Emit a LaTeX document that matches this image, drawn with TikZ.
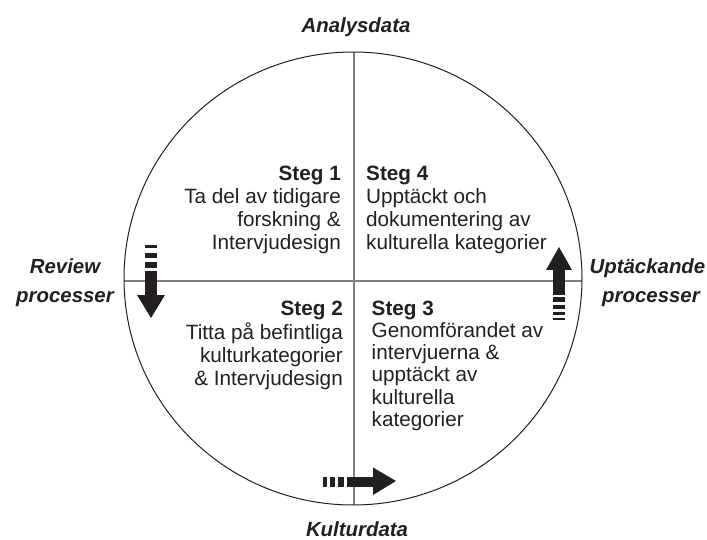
\documentclass[tikz,border=0pt]{standalone}
\usepackage{fontspec}
\setmainfont{Liberation Sans}
\definecolor{ink}{HTML}{231F20}
\definecolor{axis}{HTML}{7F7F7F}
\begin{document}
\begin{tikzpicture}[x=1pt,y=-1pt,
  txt/.style={inner sep=0pt, font=\fontsize{20.7}{22}\selectfont, text=ink},
  hd/.style={txt, font=\fontsize{20.7}{22}\selectfont\bfseries},
  lab/.style={inner sep=0pt, font=\fontsize{20.4}{24}\selectfont\bfseries\itshape, text=ink, anchor=base},
  arr/.style={fill=ink, draw=none}]
\useasboundingbox (0,0) rectangle (707,540);
% circle and axes
\coordinate (ctr) at (353,278.5);
\coordinate (top) at (354,52);
\coordinate (bot) at (354,505);
\coordinate (lft) at (124.2,281);
\coordinate (rgt) at (581.8,281);
\draw[axis, line width=1.3pt] (top) -- (bot);
\draw[axis, line width=1.3pt] (lft) -- (rgt);
\draw[ink, line width=1pt] (ctr) ellipse [x radius=229, y radius=226.5];
% outer labels
\node[lab] (ana) at (356,33) {Analysdata};
\node[lab] (kul) at (357,536) {Kulturdata};
\node[lab] (rev1) at (65,273) {Review};
\node[lab] (rev2) at (65,302) {processer};
\node[lab, anchor=base east] (upt1) at (705.5,273) {Uptäckande};
\node[lab] (upt2) at (651,302) {processer};
% Steg 1
\node[hd, anchor=base east] (s1a) at (341,181) {Steg 1};
\node[txt, anchor=base east] (s1b) at (341,203.7) {Ta del av tidigare};
\node[txt, anchor=base east] (s1c) at (341,226.4) {forskning \&};
\node[txt, anchor=base east] (s1d) at (341,249.1) {Intervjudesign};
% Steg 4
\node[hd, anchor=base west] (s4a) at (366,181) {Steg 4};
\node[txt, anchor=base west] (s4b) at (366,203.7) {Upptäckt och};
\node[txt, anchor=base west] (s4c) at (366,226.4) {dokumentering av};
\node[txt, anchor=base west] (s4d) at (366,249.1) {kulturella kategorier};
% Steg 2
\node[hd, anchor=base east] (s2a) at (343,316) {Steg 2};
\node[txt, anchor=base east] (s2b) at (343,339) {Titta på befintliga};
\node[txt, anchor=base east] (s2c) at (343,362) {kulturkategorier};
\node[txt, anchor=base east] (s2d) at (343,385) {\& Intervjudesign};
% Steg 3
\node[hd, anchor=base west] (s3a) at (371.5,315) {Steg 3};
\node[txt, anchor=base west] (s3b) at (371.5,337.3) {Genomförandet av};
\node[txt, anchor=base west] (s3c) at (371.5,359.6) {intervjuerna \&};
\node[txt, anchor=base west] (s3d) at (371.5,381.9) {upptäckt av};
\node[txt, anchor=base west] (s3e) at (371.5,404.2) {kulturella};
\node[txt, anchor=base west] (s3f) at (371.5,426.5) {kategorier};
% arrow left (down)
\fill[arr] (145,245) rectangle (157,248);
\fill[arr] (145,253) rectangle (157,258);
\fill[arr] (145,262) rectangle (157,268);
\fill[arr] (145,271) rectangle (157,295);
\fill[arr] (137,295) -- (165,295) -- (151,318) -- cycle;
% arrow right (up)
\fill[arr] (546,270) -- (572,270) -- (559,247) -- cycle;
\fill[arr] (553,270) rectangle (565,295);
\fill[arr] (553,297) rectangle (565,302);
\fill[arr] (553,305) rectangle (565,309);
\fill[arr] (553,312) rectangle (565,315);
\fill[arr] (553,318) rectangle (565,320);
% arrow bottom (right)
\fill[arr] (323,477) rectangle (327,487);
\fill[arr] (330,477) rectangle (335,487);
\fill[arr] (338,477) rectangle (344,487);
\fill[arr] (347,477) rectangle (373,487);
\fill[arr] (373,467.5) -- (373,495) -- (396,481) -- cycle;
\end{tikzpicture}
\end{document}
